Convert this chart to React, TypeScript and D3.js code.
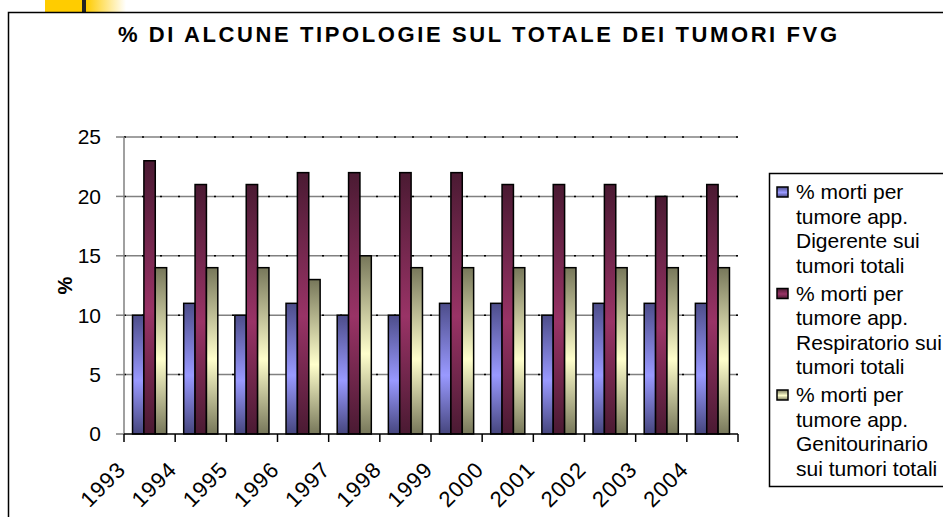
import React from 'react';
import * as d3 from 'd3';

// chart data
const years = ['1993', '1994', '1995', '1996', '1997', '1998', '1999', '2000', '2001', '2002', '2003', '2004'];
const digerente = [10, 11, 10, 11, 10, 10, 11, 11, 10, 11, 11, 11];
const respiratorio = [23, 21, 21, 22, 22, 22, 22, 21, 21, 21, 20, 21];
const genitourinario = [14, 14, 14, 13, 15, 14, 14, 14, 14, 14, 14, 14];
const yTicks = [0, 5, 10, 15, 20, 25];

const seriesNames = ['dig', 'resp', 'gen'];
const seriesValues = [digerente, respiratorio, genitourinario];
const legendLines = [
  ['% morti per', 'tumore app.', 'Digerente sui', 'tumori totali'],
  ['% morti per', 'tumore app.', 'Respiratorio sui', 'tumori totali'],
  ['% morti per', 'tumore app.', 'Genitourinario', 'sui tumori totali'],
];
const title = '% DI ALCUNE TIPOLOGIE SUL TOTALE DEI TUMORI FVG';

// gradient stops: dark edge, light middle, dark edge
const gradients = {
  dig: ['#4d4d8a', '#9999ff', '#46467e'],
  resp: ['#4a1a32', '#993366', '#4a1a32'],
  gen: ['#77775a', '#ffffcc', '#77775a'],
};

const W = 943;
const H = 517;
const plot = { left: 124, right: 738, top: 137, bottom: 434 };
const font = 'Arial, "Liberation Sans", sans-serif';

export default function App() {
  const x = d3.scaleBand<string>().domain(years).range([plot.left, plot.right]);
  // Excel gap width 50% -> group takes bandwidth / 1.5
  const groupW = x.bandwidth() / 1.5;
  const inner = d3.scaleBand<string>().domain(seriesNames).range([0, groupW]);
  const y = d3.scaleLinear().domain([0, 25]).range([plot.bottom, plot.top]);

  return (
    <div style={{ position: 'fixed', left: 0, top: 0, width: W, height: H, overflow: 'hidden', background: '#fff' }}>
      <svg width={W} height={H} style={{ display: 'block' }} fontFamily={font}>
        <defs>
          {seriesNames.map((s) => (
            <linearGradient key={s} id={`g-${s}`} x1="0" y1="0" x2="0" y2="1">
              <stop offset="0" stopColor={gradients[s][0]} />
              <stop offset="0.55" stopColor={gradients[s][1]} />
              <stop offset="1" stopColor={gradients[s][2]} />
            </linearGradient>
          ))}
          <linearGradient id="fade" x1="0" y1="0" x2="1" y2="0">
            <stop offset="0" stopColor="#ffcc00" />
            <stop offset="1" stopColor="#ffffff" />
          </linearGradient>
        </defs>

        {/* slide decoration top-left */}
        <rect x={45} y={0} width={37} height={12} fill="#ffcc00" />
        <rect x={82} y={0} width={4} height={12} fill="#222" />
        <rect x={86} y={0} width={40} height={12} fill="url(#fade)" />

        {/* chart frame */}
        <rect x={8.5} y={12.5} width={W + 20} height={H + 20} fill="#fff" stroke="#000" strokeWidth={1.5} />

        <text x={(118 + 837) / 2} y={42} textAnchor="middle" fontSize={22} fontWeight="bold"
          textLength={719} lengthAdjust="spacing">{title}</text>

        {/* gridlines */}
        {yTicks.slice(1).map((t) => (
          <g key={t}>
            <line x1={plot.left} x2={plot.right} y1={y(t)} y2={y(t)} stroke="#808080" strokeWidth={1.5} />
            <line x1={plot.left} x2={plot.right} y1={y(t)} y2={y(t)} stroke="#000" strokeWidth={1.5} strokeDasharray="2,16" />
          </g>
        ))}

        {/* bars */}
        {years.map((yr, i) => (
          <g key={yr} transform={`translate(${x(yr)! + (x.bandwidth() - groupW) / 2},0)`}>
            {seriesNames.map((s, j) => (
              <rect key={s} x={inner(s)} y={y(seriesValues[j][i])} width={inner.bandwidth()}
                height={y(0) - y(seriesValues[j][i])} fill={`url(#g-${s})`} stroke="#000" strokeWidth={1.5} />
            ))}
          </g>
        ))}

        {/* y axis */}
        <line x1={plot.left} x2={plot.left} y1={plot.top} y2={plot.bottom} stroke="#808080" strokeWidth={1.5} />
        {yTicks.map((t) => (
          <g key={t}>
            <line x1={plot.left - 8} x2={plot.left} y1={y(t)} y2={y(t)} stroke="#808080" strokeWidth={1.5} />
            <text x={101} y={y(t)} dy="0.35em" textAnchor="end" fontSize={21}>{t}</text>
          </g>
        ))}
        <text transform={`translate(72,${(plot.top + plot.bottom) / 2}) rotate(-90)`} textAnchor="middle"
          fontSize={20} fontWeight="bold">%</text>

        {/* x axis */}
        <line x1={plot.left} x2={plot.right} y1={plot.bottom} y2={plot.bottom} stroke="#000" strokeWidth={1.5} />
        {years.concat(['end']).map((yr, i) => {
          const xx = plot.left + i * x.step();
          return <line key={yr} x1={xx} x2={xx} y1={plot.bottom} y2={plot.bottom + 8} stroke="#000" strokeWidth={1.5} />;
        })}
        {years.map((yr) => (
          <text key={yr} transform={`translate(${x(yr)! + 3},471) rotate(-45)`} textAnchor="end" fontSize={22}
            letterSpacing={1}>{yr}</text>
        ))}

        {/* legend */}
        <rect x={769.5} y={173.5} width={200} height={313} fill="#fff" stroke="#000" strokeWidth={1.5} />
        {legendLines.map((lines, k) => {
          const top = 192 + k * 101.5;
          return (
            <g key={k}>
              <rect x={777} y={top - 5} width={11} height={10} fill={`url(#g-${seriesNames[k]})`} stroke="#000" strokeWidth={1.5} />
              {lines.map((ln, m) => (
                <text key={m} x={796} y={top + m * 24.5} dy="0.35em" fontSize={21}>{ln}</text>
              ))}
            </g>
          );
        })}
      </svg>
    </div>
  );
}
